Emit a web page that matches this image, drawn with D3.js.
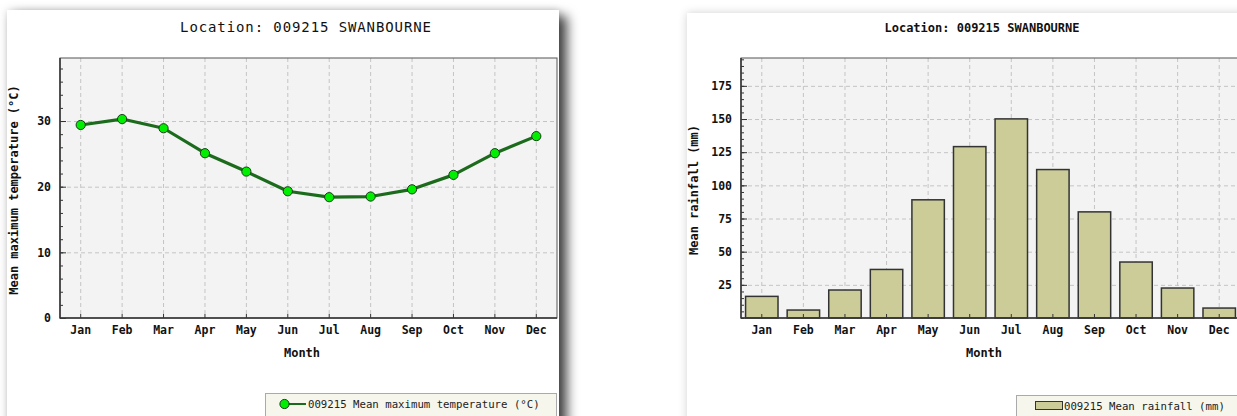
<!DOCTYPE html>
<html>
<head>
<meta charset="utf-8">
<script src="https://cdn.jsdelivr.net/npm/d3@7"></script>
<style>
  html, body { margin: 0; padding: 0; background: #ffffff; }
  svg { display: block; }
</style>
</head>
<body>
<svg id="chart" width="1237" height="416"></svg>
<script>
// ---------- data ----------
const months = ["Jan","Feb","Mar","Apr","May","Jun","Jul","Aug","Sep","Oct","Nov","Dec"];
const tempValues = [29.4, 30.3, 28.9, 25.1, 22.3, 19.3, 18.4, 18.5, 19.6, 21.8, 25.1, 27.7];
const rainValues = [16.3, 6.0, 21.1, 36.6, 89.1, 129.2, 150.1, 111.9, 80.0, 42.2, 22.6, 7.5];
const tempTicks = [0, 10, 20, 30];
const tempMinorTicks = d3.range(0, 40, 2);
const rainTicks = [25, 50, 75, 100, 125, 150, 175];
const rainMinorTicks = d3.range(0, 196, 5);
const titleText = "Location: 009215 SWANBOURNE";
const xTitle = "Month";
const tempYTitle = "Mean maximum temperature (°C)";
const rainYTitle = "Mean rainfall (mm)";
const tempLegend = "009215 Mean maximum temperature (°C)";
const rainLegend = "009215 Mean rainfall (mm)";

const MONO = "'DejaVu Sans Mono', 'Liberation Mono', monospace";
const svg = d3.select("#chart");

// ---------- filters (card shadows) ----------
const defs = svg.append("defs");
const f1 = defs.append("filter").attr("id", "shadowL").attr("x", "-10%").attr("y", "-10%").attr("width", "130%").attr("height", "130%");
f1.append("feDropShadow").attr("dx", 0).attr("dy", 0).attr("stdDeviation", 4).attr("flood-color", "#000").attr("flood-opacity", 0.18).attr("result", "a");
f1.append("feDropShadow").attr("in", "SourceGraphic").attr("dx", 8).attr("dy", 6).attr("stdDeviation", 6).attr("flood-color", "#000").attr("flood-opacity", 0.72).attr("result", "b");
const m1 = f1.append("feMerge");
m1.append("feMergeNode").attr("in", "a");
m1.append("feMergeNode").attr("in", "b");

const f2 = defs.append("filter").attr("id", "shadowR").attr("x", "-10%").attr("y", "-10%").attr("width", "130%").attr("height", "130%");
f2.append("feDropShadow").attr("dx", 0).attr("dy", 0).attr("stdDeviation", 4).attr("flood-color", "#000").attr("flood-opacity", 0.18);

// cards
svg.append("rect").attr("x", 7).attr("y", 10).attr("width", 552).attr("height", 430)
  .attr("fill", "#fff").attr("filter", "url(#shadowL)");
svg.append("rect").attr("x", 687).attr("y", 13).attr("width", 600).attr("height", 430)
  .attr("fill", "#fff").attr("filter", "url(#shadowR)");

// ---------- helpers ----------
function drawFrame(g, x0, x1, y0, y1) {
  g.append("rect").attr("x", x0).attr("y", y0).attr("width", x1 - x0).attr("height", y1 - y0)
    .attr("fill", "#f3f3f3");
}
function drawGrid(g, xs, xPositions, y, ticks, x0, x1, y0, y1) {
  g.append("g").selectAll("line.h").data(ticks).join("line")
    .attr("x1", x0).attr("x2", x1).attr("y1", d => y(d) + 0.5).attr("y2", d => y(d) + 0.5)
    .attr("stroke", "#c4c4c4").attr("stroke-dasharray", "4,3").attr("stroke-width", 1);
  g.append("g").selectAll("line.v").data(xPositions).join("line")
    .attr("x1", d => d).attr("x2", d => d).attr("y1", y0).attr("y2", y1)
    .attr("stroke", "#c4c4c4").attr("stroke-dasharray", "4,3").attr("stroke-width", 1);
}
function drawAxes(g, x, y, x0, x1, y0, y1, majorTicks, minorTicks) {
  const ya = g.append("g").attr("transform", `translate(${x0},0)`)
    .call(d3.axisLeft(y).tickValues(majorTicks).tickSize(-6).tickPadding(9).tickFormat(d3.format("d")));
  ya.select(".domain").remove();
  ya.selectAll("line").attr("stroke", "#333");
  ya.selectAll("text").attr("font-family", MONO).attr("font-weight", "bold").attr("font-size", 11.5).attr("fill", "#111");
  const ym = g.append("g").attr("transform", `translate(${x0},0)`)
    .call(d3.axisLeft(y).tickValues(minorTicks.filter(v => y(v) >= y0 && y(v) <= y1)).tickSize(-3).tickFormat(""));
  ym.select(".domain").remove();
  ym.selectAll("line").attr("stroke", "#333");
  const xa = g.append("g").attr("transform", `translate(0,${y1})`)
    .call(d3.axisBottom(x).tickSize(-4).tickPadding(8));
  xa.select(".domain").remove();
  xa.selectAll("line").attr("stroke", "#333");
  xa.selectAll("text").attr("font-family", MONO).attr("font-weight", "bold").attr("font-size", 11.5).attr("fill", "#111");
  g.append("rect").attr("x", x0).attr("y", y0).attr("width", x1 - x0).attr("height", y1 - y0)
    .attr("fill", "none").attr("stroke", "#555").attr("stroke-width", 1);
  g.append("line").attr("x1", x0).attr("x2", x0).attr("y1", y0).attr("y2", y1 + 0.5).attr("stroke", "#333").attr("stroke-width", 1.5);
  g.append("line").attr("x1", x0).attr("x2", x1).attr("y1", y1).attr("y2", y1).attr("stroke", "#333").attr("stroke-width", 1.5);
}

// ---------- LEFT: temperature line ----------
{
  const L = { x0: 60, x1: 557, y0: 58, y1: 318 };
  const g = svg.append("g");
  const x = d3.scaleBand().domain(months).range([L.x0, L.x1]);
  const y = d3.scaleLinear().domain([0, 39.6]).range([L.y1, L.y0]);
  const cx = m => x(m) + x.bandwidth() / 2;

  drawFrame(g, L.x0, L.x1, L.y0, L.y1);
  drawGrid(g, x, months.map(cx), y, tempTicks.filter(t => t > 0), L.x0, L.x1, L.y0, L.y1);
  drawAxes(g, x, y, L.x0, L.x1, L.y0, L.y1, tempTicks, tempMinorTicks);

  const line = d3.line().x((d, i) => cx(months[i])).y(d => y(d));
  g.append("path").datum(tempValues).attr("d", line)
    .attr("fill", "none").attr("stroke", "#1c6b1c").attr("stroke-width", 3.2).attr("stroke-linejoin", "round");
  g.selectAll("circle.pt").data(tempValues).join("circle")
    .attr("cx", (d, i) => cx(months[i])).attr("cy", d => y(d)).attr("r", 4.6)
    .attr("fill", "#00ee00").attr("stroke", "#1a3a1a").attr("stroke-width", 1);

  svg.append("text").attr("x", 306).attr("y", 32).attr("text-anchor", "middle")
    .attr("font-family", MONO).attr("font-size", 14).attr("letter-spacing", 0.9).attr("fill", "#111").text(titleText);
  svg.append("text").attr("x", 302).attr("y", 357).attr("text-anchor", "middle")
    .attr("font-family", MONO).attr("font-weight", "bold").attr("font-size", 12).attr("fill", "#111").text(xTitle);
  svg.append("text").attr("transform", `translate(18,${190}) rotate(-90)`).attr("text-anchor", "middle")
    .attr("font-family", MONO).attr("font-weight", "bold").attr("font-size", 12).attr("fill", "#111").text(tempYTitle);

  const lg = svg.append("g");
  lg.append("rect").attr("x", 265.5).attr("y", 393.5).attr("width", 291).attr("height", 30)
    .attr("fill", "#f6f6ec").attr("stroke", "#aaa").attr("stroke-width", 1);
  lg.append("line").attr("x1", 284).attr("x2", 306).attr("y1", 404).attr("y2", 404)
    .attr("stroke", "#1c6b1c").attr("stroke-width", 2);
  lg.append("circle").attr("cx", 284.5).attr("cy", 404).attr("r", 4.6)
    .attr("fill", "#00ee00").attr("stroke", "#1a3a1a").attr("stroke-width", 1);
  lg.append("text").attr("x", 308).attr("y", 408).attr("font-family", MONO).attr("font-size", 10.7)
    .attr("fill", "#222").text(tempLegend);
}

// ---------- RIGHT: rainfall bars ----------
{
  const R = { x0: 741, x1: 1240, y0: 58, y1: 318 };
  const g = svg.append("g");
  const x = d3.scaleBand().domain(months).range([R.x0, R.x1]).paddingInner(0.22).paddingOuter(0.11);
  const y = d3.scaleLinear().domain([0, 196]).range([R.y1, R.y0]);

  drawFrame(g, R.x0, R.x1, R.y0, R.y1);
  drawGrid(g, x, months.map(m => x(m) + x.bandwidth() / 2), y, rainTicks, R.x0, R.x1, R.y0, R.y1);

  g.selectAll("rect.bar").data(rainValues).join("rect")
    .attr("x", (d, i) => x(months[i])).attr("y", d => y(d))
    .attr("width", x.bandwidth()).attr("height", d => R.y1 - y(d))
    .attr("fill", "#cccc99").attr("stroke", "#333").attr("stroke-width", 1.5);

  drawAxes(g, x, y, R.x0, R.x1, R.y0, R.y1, rainTicks, rainMinorTicks);

  svg.append("text").attr("x", 982).attr("y", 32).attr("text-anchor", "middle")
    .attr("font-family", MONO).attr("font-weight", "bold").attr("font-size", 12).attr("fill", "#111").text(titleText);
  svg.append("text").attr("x", 984).attr("y", 357).attr("text-anchor", "middle")
    .attr("font-family", MONO).attr("font-weight", "bold").attr("font-size", 12).attr("fill", "#111").text(xTitle);
  svg.append("text").attr("transform", `translate(698,${190}) rotate(-90)`).attr("text-anchor", "middle")
    .attr("font-family", MONO).attr("font-weight", "bold").attr("font-size", 12).attr("fill", "#111").text(rainYTitle);

  const lg = svg.append("g");
  lg.append("rect").attr("x", 1016.5).attr("y", 395.5).attr("width", 260).attr("height", 30)
    .attr("fill", "#f6f6ec").attr("stroke", "#aaa").attr("stroke-width", 1);
  lg.append("rect").attr("x", 1035.5).attr("y", 401.5).attr("width", 27).attr("height", 8)
    .attr("fill", "#cccc99").attr("stroke", "#333").attr("stroke-width", 1);
  lg.append("text").attr("x", 1064).attr("y", 409.5).attr("font-family", MONO).attr("font-size", 10.7)
    .attr("fill", "#222").text(rainLegend);
}
</script>
</body>
</html>
